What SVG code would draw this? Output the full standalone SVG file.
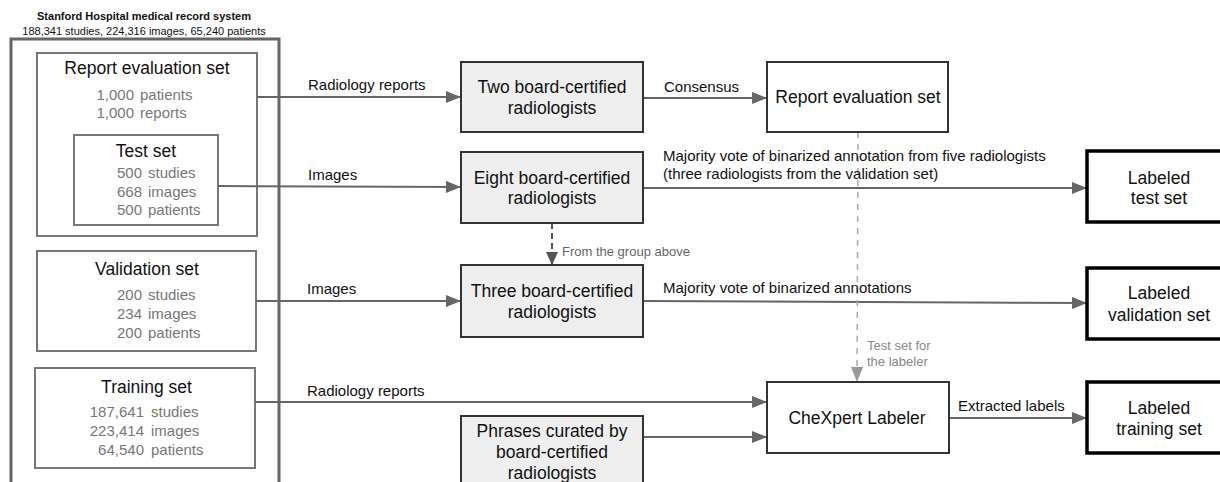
<svg xmlns="http://www.w3.org/2000/svg" width="1220" height="482" viewBox="0 0 1220 482">
<defs>
<marker id="ah" viewBox="0 0 15 12" refX="15" refY="6" markerWidth="15" markerHeight="12" markerUnits="userSpaceOnUse" orient="auto"><path d="M0,0 L15,6 L0,12 z" fill="#666"/></marker>
<marker id="ahd" viewBox="0 0 13 12" refX="13" refY="6" markerWidth="13" markerHeight="12" markerUnits="userSpaceOnUse" orient="auto"><path d="M0,0 L13,6 L0,12 z" fill="#555"/></marker>
<marker id="ahl" viewBox="0 0 15 12" refX="15" refY="6" markerWidth="15" markerHeight="12" markerUnits="userSpaceOnUse" orient="auto"><path d="M0,0 L15,6 L0,12 z" fill="#999"/></marker>
<style>
text{font-family:"Liberation Sans",Arial,sans-serif;}
.title{font-size:11px;font-weight:bold;fill:#111;text-anchor:middle;}
.sub{font-size:11px;fill:#111;text-anchor:middle;}
.outer{fill:none;stroke:#666;stroke-width:3;}
.set{fill:#fff;stroke:#777;stroke-width:2;}
.settitle{font-size:17.5px;fill:#111;text-anchor:middle;}
.num{font-size:15px;fill:#777;text-anchor:end;}
.word{font-size:15px;fill:#777;}
.gray{fill:#eeeeee;stroke:#333;stroke-width:2;}
.white{fill:#fff;stroke:#333;stroke-width:2;}
.bold{fill:#fff;stroke:#000;stroke-width:3.5;}
.nt{font-size:17.5px;fill:#111;text-anchor:middle;}
.el{font-size:15px;fill:#111;}
.sm{font-size:13px;fill:#666;}
.smg{font-size:13px;fill:#888;}
.c{fill:none;stroke:#666;stroke-width:2;}
.cd{fill:none;stroke:#555;stroke-width:2;stroke-dasharray:6,4;}
.cl{fill:none;stroke:#aaa;stroke-width:1.5;stroke-dasharray:6,6;}
</style>
</defs>
<rect width="1220" height="482" fill="#fff"/>

<g id="hospital">
<text class="title" x="144" y="20">Stanford Hospital medical record system</text>
<text class="sub" x="144" y="35">188,341 studies, 224,316 images, 65,240 patients</text>
<rect class="outer" x="11" y="39" width="268" height="460"/>
</g>

<g id="report-eval-left">
<rect class="set" x="37" y="53" width="220" height="183"/>
<text class="settitle" x="147" y="74">Report evaluation set</text>
<text class="num" x="134" y="100">1,000</text><text class="word" x="140" y="100">patients</text>
<text class="num" x="134" y="118">1,000</text><text class="word" x="140" y="118">reports</text>
</g>

<g id="test-set">
<rect class="set" x="74" y="135" width="144" height="90"/>
<text class="settitle" x="146" y="157">Test set</text>
<text class="num" x="142" y="178">500</text><text class="word" x="148" y="178">studies</text>
<text class="num" x="142" y="197">668</text><text class="word" x="148" y="197">images</text>
<text class="num" x="142" y="215">500</text><text class="word" x="148" y="215">patients</text>
</g>

<g id="validation-set">
<rect class="set" x="37" y="251" width="219" height="100"/>
<text class="settitle" x="147" y="275">Validation set</text>
<text class="num" x="142" y="300">200</text><text class="word" x="148" y="300">studies</text>
<text class="num" x="142" y="319">234</text><text class="word" x="148" y="319">images</text>
<text class="num" x="142" y="338">200</text><text class="word" x="148" y="338">patients</text>
</g>

<g id="training-set">
<rect class="set" x="35" y="368" width="220" height="100"/>
<text class="settitle" x="146.5" y="393">Training set</text>
<text class="num" x="144" y="417">187,641</text><text class="word" x="151" y="417">studies</text>
<text class="num" x="144" y="436">223,414</text><text class="word" x="151" y="436">images</text>
<text class="num" x="144" y="455">64,540</text><text class="word" x="151" y="455">patients</text>
</g>

<g id="connectors">
<line class="c" x1="257" y1="97" x2="461" y2="97" marker-end="url(#ah)"/>
<line class="c" x1="218" y1="186" x2="461" y2="187" marker-end="url(#ah)"/>
<line class="c" x1="256" y1="301" x2="461" y2="301" marker-end="url(#ah)"/>
<line class="c" x1="255" y1="402" x2="767" y2="402" marker-end="url(#ah)"/>
<line class="c" x1="643" y1="437" x2="767" y2="437" marker-end="url(#ah)"/>
<line class="c" x1="643" y1="98" x2="767" y2="98" marker-end="url(#ah)"/>
<line class="c" x1="643" y1="188" x2="1087" y2="188" marker-end="url(#ah)"/>
<line class="c" x1="643" y1="301" x2="1087" y2="303" marker-end="url(#ah)"/>
<line class="c" x1="949" y1="418" x2="1087" y2="418" marker-end="url(#ah)"/>
<line class="cd" x1="552" y1="223" x2="552" y2="265" marker-end="url(#ahd)"/>
<line class="cl" x1="858" y1="132" x2="857" y2="382" marker-end="url(#ahl)"/>
<text class="el" x="308" y="90">Radiology reports</text>
<text class="el" x="308" y="180">Images</text>
<text class="el" x="307" y="294">Images</text>
<text class="el" x="307" y="396">Radiology reports</text>
<text class="el" x="664" y="92">Consensus</text>
<text class="el" x="663" y="161">Majority vote of binarized annotation from five radiologists</text>
<text class="el" x="663" y="179">(three radiologists from the validation set)</text>
<text class="el" x="663" y="293">Majority vote of binarized annotations</text>
<text class="el" x="958" y="411">Extracted labels</text>
<text class="sm" x="562" y="256">From the group above</text>
<text class="smg" x="867" y="350">Test set for</text>
<text class="smg" x="867" y="366">the labeler</text>
</g>

<g id="two-radiologists">
<rect class="gray" x="461" y="62" width="182" height="70"/>
<text class="nt" x="552" y="93">Two board-certified</text>
<text class="nt" x="552" y="114">radiologists</text>
</g>

<g id="eight-radiologists">
<rect class="gray" x="461" y="152" width="182" height="71"/>
<text class="nt" x="552" y="184">Eight board-certified</text>
<text class="nt" x="552" y="204">radiologists</text>
</g>

<g id="three-radiologists">
<rect class="gray" x="461" y="265" width="182" height="72"/>
<text class="nt" x="552" y="297">Three board-certified</text>
<text class="nt" x="552" y="318">radiologists</text>
</g>

<g id="phrases">
<rect class="gray" x="461" y="416" width="182" height="80"/>
<text class="nt" x="552" y="437">Phrases curated by</text>
<text class="nt" x="552" y="458">board-certified</text>
<text class="nt" x="552" y="479">radiologists</text>
</g>

<g id="report-eval-set">
<rect class="white" x="767" y="62" width="181" height="70"/>
<text class="nt" x="858" y="103">Report evaluation set</text>
</g>

<g id="chexpert-labeler">
<rect class="white" x="767" y="382" width="182" height="71"/>
<text class="nt" x="857" y="424">CheXpert Labeler</text>
</g>

<g id="labeled-test">
<rect class="bold" x="1087" y="151" width="150" height="71"/>
<text class="nt" x="1159" y="184">Labeled</text>
<text class="nt" x="1159" y="204">test set</text>
</g>

<g id="labeled-validation">
<rect class="bold" x="1087" y="268" width="150" height="71"/>
<text class="nt" x="1159" y="299">Labeled</text>
<text class="nt" x="1159" y="321">validation set</text>
</g>

<g id="labeled-training">
<rect class="bold" x="1087" y="382" width="150" height="71"/>
<text class="nt" x="1159" y="414">Labeled</text>
<text class="nt" x="1159" y="435">training set</text>
</g>
</svg>
